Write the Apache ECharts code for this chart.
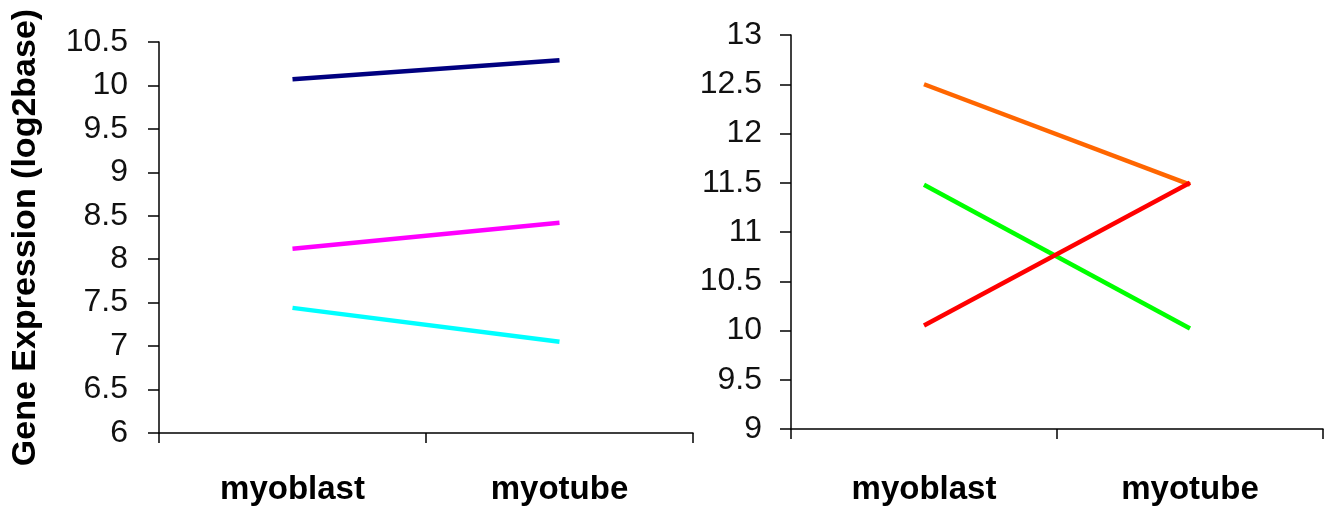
<!DOCTYPE html>
<html>
<head>
<meta charset="utf-8">
<script src="https://cdn.jsdelivr.net/npm/echarts@6/dist/echarts.min.js"></script>
<style>
html,body{margin:0;padding:0;background:#fff;}
#chart{width:1325px;height:506px;}
</style>
</head>
<body>
<div id="chart"></div>
<script>
var categories = ['myoblast', 'myotube'];
var leftNavy = [10.07, 10.29];
var leftMagenta = [8.12, 8.42];
var leftCyan = [7.44, 7.05];
var rightOrange = [12.5, 11.48];
var rightGreen = [11.48, 10.02];
var rightRed = [10.05, 11.5];
var yTitle = 'Gene Expression (log2base)';

var FONT = '"Liberation Sans", Arial, sans-serif';
function xAxisCfg(gridIndex, margin) {
  return {
    type: 'category', gridIndex: gridIndex, data: categories, boundaryGap: true,
    axisLine: { lineStyle: { color: '#000', width: 1.5 } },
    axisTick: { show: true, length: 10, lineStyle: { color: '#000', width: 1.5 } },
    axisLabel: { margin: margin, color: '#000', fontSize: 33, fontWeight: 'bold', fontFamily: FONT },
    splitLine: { show: false }
  };
}
function yAxisCfg(gridIndex, min, max, margin, name) {
  return {
    type: 'value', gridIndex: gridIndex, min: min, max: max, interval: 0.5,
    name: name || '', nameLocation: 'middle', nameRotate: 90, nameGap: 116,
    nameTextStyle: { color: '#000', fontSize: 34, fontWeight: 'bold', fontFamily: FONT },
    axisLine: { show: true, lineStyle: { color: '#000', width: 1.5 } },
    axisTick: { show: true, length: 11, lineStyle: { color: '#000', width: 1.5 } },
    axisLabel: { margin: margin, color: '#111', fontSize: 32, fontFamily: FONT },
    splitLine: { show: false }
  };
}
function line(xi, yi, data, color) {
  return {
    type: 'line', xAxisIndex: xi, yAxisIndex: yi, data: data, symbol: 'none',
    lineStyle: { color: color, width: 4.5 }, itemStyle: { color: color }, animation: false
  };
}
var chart = echarts.init(document.getElementById('chart'));
chart.setOption({
  backgroundColor: '#fff',
  animation: false,
  grid: [
    { left: 159, top: 42, width: 534, height: 395 },
    { left: 791, top: 35, width: 532, height: 400 }
  ],
  xAxis: [xAxisCfg(0, 40), xAxisCfg(1, 44)],
  yAxis: [yAxisCfg(0, 6, 10.5, 31, yTitle), yAxisCfg(1, 9, 13, 29)],
  series: [
    line(0, 0, leftNavy, '#000080'),
    line(0, 0, leftMagenta, '#FF00FF'),
    line(0, 0, leftCyan, '#00FFFF'),
    line(1, 1, rightOrange, '#FF6600'),
    line(1, 1, rightGreen, '#00FF00'),
    line(1, 1, rightRed, '#FF0000')
  ]
});
</script>
</body>
</html>
